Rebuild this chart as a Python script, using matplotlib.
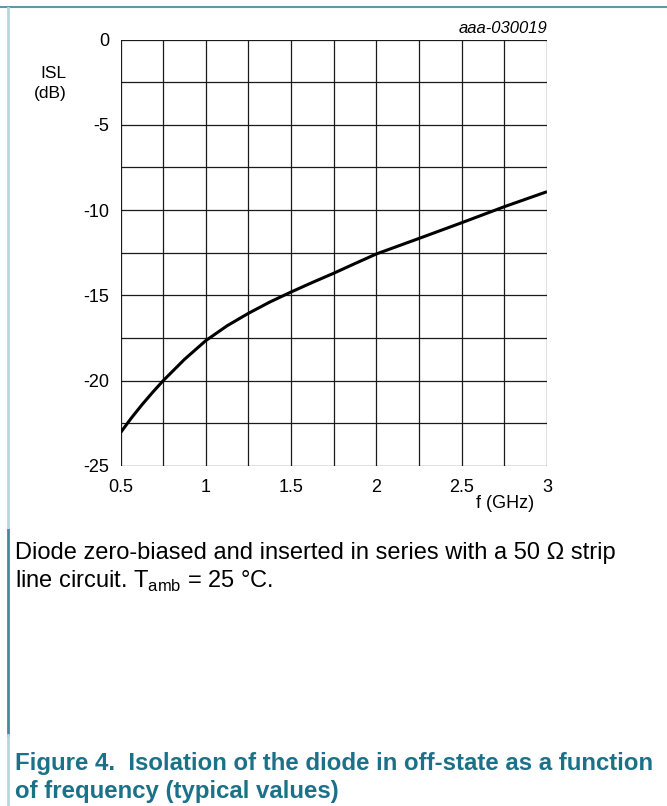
import matplotlib
matplotlib.use("Agg")
import matplotlib.pyplot as plt
from matplotlib.lines import Line2D

plt.rcParams['font.family'] = ['Liberation Sans', 'DejaVu Sans']

# Data
freq_ghz = [0.5, 0.5625, 0.625, 0.6875, 0.75, 0.875, 1.0, 1.125, 1.25, 1.375, 1.5,
            1.625, 1.75, 1.875, 2.0, 2.25, 2.5, 2.75, 3.0]
isl_db = [-23.05, -22.2, -21.42, -20.69, -20.0, -18.75, -17.65, -16.78, -16.05, -15.39,
          -14.8, -14.24, -13.7, -13.13, -12.57, -11.66, -10.74, -9.8, -8.92]

x_ticks = [0.5, 1, 1.5, 2, 2.5, 3]
x_tick_labels = ["0.5", "1", "1.5", "2", "2.5", "3"]
y_ticks = [0, -5, -10, -15, -20, -25]
y_tick_labels = ["0", "-5", "-10", "-15", "-20", "-25"]

W, H = 667, 806
fig = plt.figure(figsize=(W / 100, H / 100), dpi=100)
fig.patch.set_facecolor("white")

def fx(px):
    return px / W

def fy(py):
    return 1 - py / H

ax_l, ax_r, ax_t, ax_b = 120.5, 547.0, 39.5, 466.0
ax = fig.add_axes([fx(ax_l), fy(ax_b), fx(ax_r - ax_l), (ax_b - ax_t) / H])

ax.set_xlim(0.5, 3.0)
ax.set_ylim(-25, 0)

# grid every 0.25 GHz and 2.5 dB
for i in range(11):
    xv = 0.5 + 0.25 * i
    ax.axvline(xv, color="#1a1a1a", lw=0.9, zorder=1)
    yv = -2.5 * i
    ax.axhline(yv, color="#1a1a1a", lw=0.9, zorder=1)

ax.plot(freq_ghz, isl_db, color="black", lw=2.2, zorder=3, solid_capstyle="butt",
        solid_joinstyle="round")

ax.set_xticks(x_ticks)
ax.set_xticklabels(x_tick_labels)
ax.set_yticks(y_ticks)
ax.set_yticklabels(y_tick_labels)
ax.tick_params(axis="both", length=0, labelsize=13, colors="black")
ax.tick_params(axis="x", pad=9)
ax.tick_params(axis="y", pad=8)
for s in ax.spines.values():
    s.set_visible(False)

# axis titles
fig.text(fx(67), fy(66), "ISL\n(dB)", ha="right", va="top", fontsize=12.5,
         multialignment="right", linespacing=1.4)
fig.text(fx(534), fy(495), "f (GHz)", ha="right", va="top", fontsize=13)
fig.text(fx(547), fy(21), "aaa-030019", ha="right", va="top", fontsize=12,
         style="italic")

# page decorations
fig.add_artist(Line2D([0, 1], [fy(7), fy(7)], color="#5e97a8", lw=1.5,
                      transform=fig.transFigure))
fig.add_artist(Line2D([fx(7.5), fx(7.5)], [fy(8), fy(530)], color="#b7d7df", lw=2,
                      transform=fig.transFigure))
fig.add_artist(Line2D([fx(7.5), fx(7.5)], [fy(530), fy(735)], color="#3e8d9e", lw=2,
                      transform=fig.transFigure))
fig.add_artist(Line2D([fx(7.5), fx(7.5)], [fy(735), fy(806)], color="#b7d7df", lw=2,
                      transform=fig.transFigure))

# note text
fig.text(fx(15), fy(559), "Diode zero-biased and inserted in series with a 50 \u03a9 strip",
         ha="left", va="baseline", fontsize=17)
fig.text(fx(15), fy(588), "line circuit. T$_{\\mathregular{amb}}$ = 25 \u00b0C.",
         ha="left", va="baseline", fontsize=17)

# figure caption
cap_color = "#1b7188"
fig.text(fx(15), fy(770), "Figure 4.  Isolation of the diode in off-state as a function",
         ha="left", va="baseline", fontsize=17.3, fontweight="bold", color=cap_color)
fig.text(fx(15), fy(798), "of frequency (typical values)",
         ha="left", va="baseline", fontsize=17.3, fontweight="bold", color=cap_color)

fig.savefig("out.png", dpi=100, facecolor="white")
